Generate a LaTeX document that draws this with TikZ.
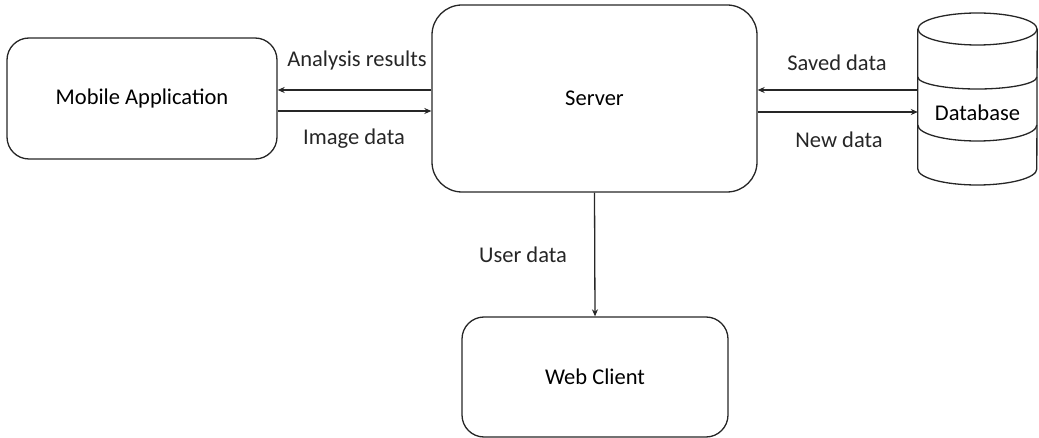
\documentclass[tikz,border=0pt]{standalone}
\usepackage{fontspec}
\setmainfont{Carlito}
\usepackage{tikz}
\usetikzlibrary{arrows.meta, positioning, calc}
\tikzset{
    sysbox/.style={rectangle, rounded corners=22pt, draw=black!85, line width=1.3pt,
                   align=center, inner sep=0pt},
    arrow/.style={-{Stealth[length=7pt, width=6pt]}, line width=1.3pt, draw=black!85},
    edgelbl/.style={inner sep=2pt, text=black!85},
    dbline/.style={draw=black!85, line width=1.3pt},
}
\begin{document}
\begin{tikzpicture}[x=1pt, y=-1pt, font=\fontsize{22.5}{26}\selectfont]
    \useasboundingbox (0,0) rectangle (1039,438);
    \node[sysbox, minimum width=270pt, minimum height=121pt] (mobile) at (142, 98.5) {Mobile Application};
    \node[sysbox, rounded corners=30pt, minimum width=325pt, minimum height=187pt] (server) at (594.5, 98.5) {Server};
    \node[sysbox, minimum width=266pt, minimum height=120pt] (web) at (595, 377) {Web Client};
    \node[inner sep=0pt, minimum width=119pt, minimum height=150pt] (db) at (977.5, 113) {Database};
    % cylinder of the database
    \draw[dbline] (db.west |- 0,29) -- (db.west |- 0,169) arc (180:0:59.5 and 16) -- (db.east |- 0,29);
    \draw[dbline] (db.center |- 0,29) ellipse (59.5 and 16);
    \draw[dbline] (db.west |- 0,77) arc (180:0:59.5 and 12);
    \draw[dbline] (db.west |- 0,125) arc (180:0:59.5 and 16);
    % flows
    \draw[arrow] (server.west |- 0,90) -- (mobile.east |- 0,90);
    \draw[arrow] (mobile.east |- 0,111) -- (server.west |- 0,111);
    \draw[arrow] (db.west |- 0,90) -- (server.east |- 0,90);
    \draw[arrow] (server.east |- 0,112) -- (db.west |- 0,112);
    \draw[arrow] (server.south) -- (web.north);
    \node[edgelbl] (lblres) at (357, 61) {Analysis results};
    \node[edgelbl] (lblimg) at (354, 139) {Image data};
    \node[edgelbl] (lblsaved) at (837, 63) {Saved data};
    \node[edgelbl] (lblnew) at (839, 140) {New data};
    \node[edgelbl] (lbluser) at (523, 255) {User data};
\end{tikzpicture}
\end{document}
